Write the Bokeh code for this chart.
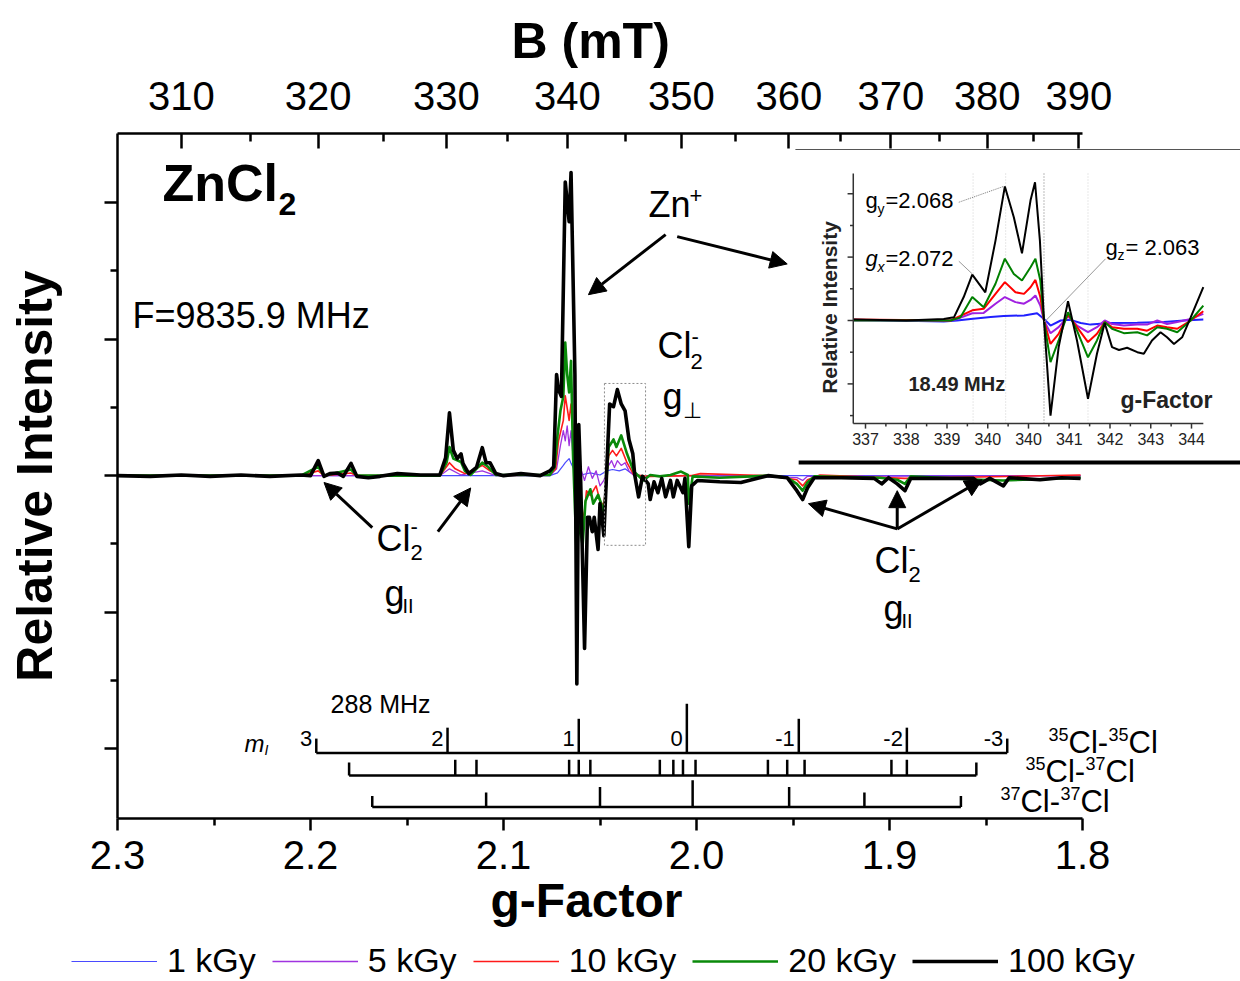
import math
from bokeh.plotting import figure
from bokeh.models import (Range1d, LinearAxis, FixedTicker, CustomJSTickFormatter,
                          NumeralTickFormatter, Arrow, NormalHead, Legend, LegendItem, Title)
from bokeh.core.properties import value
from bokeh.embed import file_html
from bokeh.resources import INLINE

FONT = "Liberation Sans"
FREQ_GHZ = 9.8359
B_PER_G = 71.4477 * FREQ_GHZ   # B(mT) * g

# ---------------- main spectrum (g-factor, relative intensity) ----------------
G_100 = [2.300, 2.283, 2.267, 2.252, 2.236, 2.221, 2.205, 2.200, 2.196, 2.193,
         2.190, 2.186, 2.183, 2.179, 2.176, 2.170, 2.164, 2.155, 2.143, 2.133,
         2.130, 2.128, 2.126, 2.124, 2.122, 2.121, 2.118, 2.114, 2.111, 2.109,
         2.107, 2.104, 2.100, 2.091, 2.081, 2.076, 2.074, 2.0725, 2.0715, 2.070,
         2.068, 2.066, 2.065, 2.063, 2.062, 2.061, 2.060, 2.058, 2.0565, 2.0555,
         2.054, 2.053, 2.051, 2.050, 2.049, 2.048, 2.046, 2.045, 2.043, 2.041,
         2.039, 2.037, 2.035, 2.033, 2.032, 2.030, 2.028, 2.025, 2.024, 2.022,
         2.020, 2.018, 2.016, 2.0135, 2.012, 2.010, 2.007, 2.006, 2.004, 2.0025,
         1.9995, 1.988, 1.977, 1.963, 1.953, 1.948, 1.945, 1.9425, 1.939, 1.925,
         1.908, 1.904, 1.9005, 1.896, 1.892, 1.889, 1.874, 1.8565, 1.853, 1.848,
         1.841, 1.838, 1.822, 1.811, 1.801]
I_100 = [0.00, -0.01, 0.01, -0.01, 0.01, -0.01, 0.01, 0.00, 0.22, -0.01,
         0.03, 0.04, -0.01, 0.18, -0.01, -0.03, -0.01, 0.03, 0.01, 0.01,
         0.26, 0.92, 0.37, 0.25, 0.32, 0.18, 0.03, 0.12, 0.41, 0.19,
         0.19, 0.03, 0.00, 0.03, 0.00, 0.07, 0.13, 1.48, 1.26, 1.16,
         4.30, 3.72, 4.44, 1.48, -3.05, 0.75, -0.09, -2.53, -0.61, -0.61,
         -0.82, -0.61, -1.08, -0.41, -0.61, -0.88, 0.42, 1.05, 1.01, 1.26,
         1.05, 0.95, 0.53, 0.32, 0.01, -0.31, -0.01, -0.12, -0.35, -0.09,
         -0.25, -0.04, -0.31, -0.07, -0.31, -0.07, -0.25, -0.04, -1.04, -0.15,
         -0.07, -0.09, -0.10, 0.00, -0.03, -0.22, -0.35, -0.18, -0.03, -0.03,
         -0.04, -0.12, -0.03, -0.12, -0.22, -0.04, -0.04, -0.04, -0.12, -0.04,
         -0.15, -0.03, -0.06, -0.03, -0.04]

G_20 = [2.300, 2.205, 2.196, 2.193, 2.179, 2.176, 2.133, 2.1295, 2.128, 2.126,
        2.122, 2.120, 2.117, 2.111, 2.108, 2.104, 2.076, 2.0735, 2.072, 2.0705,
        2.069, 2.068, 2.067, 2.066, 2.065, 2.064, 2.062, 2.061, 2.059, 2.0575,
        2.055, 2.0535, 2.051, 2.049, 2.048, 2.0455, 2.043, 2.0415, 2.039, 2.036,
        2.0325, 2.0275, 2.024, 2.019, 2.0135, 2.008, 2.0045, 2.004, 2.002, 1.988,
        1.963, 1.953, 1.948, 1.945, 1.9425, 1.939, 1.905, 1.896, 1.892, 1.889,
        1.853, 1.841, 1.801]
I_20 = [0, 0, 0.13, 0, 0.09, 0, 0, 0.19, 0.42, 0.25,
        0.20, 0.07, 0.01, 0.19, 0.13, 0.01, 0.01, 0.13, 0.59, 0.95,
        1.16, 1.95, 1.48, 1.22, 1.68, 0.32, -1.24, -0.66, -1.02, -0.37,
        -0.20, -0.41, -0.28, -0.44, -0.61, 0.42, 0.53, 0.42, 0.59, 0.32,
        0.06, -0.07, 0.01, -0.01, 0.01, 0.06, 0.01, -0.41, -0.01, -0.03,
        0, -0.03, -0.12, -0.22, -0.10, -0.01, -0.03, -0.06, -0.12, -0.01,
        -0.06, -0.07, -0.03]

G_10 = [2.300, 2.205, 2.196, 2.193, 2.179, 2.176, 2.133, 2.128, 2.125, 2.120,
        2.111, 2.107, 2.1015, 2.076, 2.073, 2.0715, 2.069, 2.068, 2.066, 2.065,
        2.064, 2.063, 2.0615, 2.060, 2.0585, 2.057, 2.055, 2.052, 2.050, 2.048,
        2.0455, 2.0435, 2.0415, 2.039, 2.036, 2.0325, 2.024, 2.003, 1.998, 1.963,
        1.948, 1.945, 1.9425, 1.936, 1.892, 1.801]
I_10 = [0, 0, 0.07, 0, 0.04, 0, 0, 0.19, 0.10, 0.03,
        0.15, 0.07, 0, 0.01, 0.10, 0.51, 0.81, 1.17, 0.81, 1.05,
        0.66, 0.07, -0.66, -0.37, -0.66, -0.22, -0.29, -0.15, -0.37, -0.44,
        0.29, 0.37, 0.29, 0.40, 0.19, 0.01, -0.01, 0, 0.03, 0,
        -0.06, -0.15, -0.06, 0.01, -0.04, 0.01]

G_5 = [2.300, 2.133, 2.128, 2.122, 2.111, 2.104, 2.076, 2.0725, 2.0705, 2.069,
       2.068, 2.067, 2.066, 2.065, 2.064, 2.062, 2.060, 2.058, 2.056, 2.054,
       2.052, 2.050, 2.048, 2.0455, 2.044, 2.0425, 2.041, 2.039, 2.037, 2.035,
       2.0325, 1.998, 1.948, 1.945, 1.9425, 1.801]
I_5 = [0, 0, 0.10, 0.01, 0.07, 0, 0, 0.10, 0.44, 0.66,
       0.51, 0.73, 0.44, 0.66, 0.29, 0.07, 0.10, -0.07, 0.13, -0.04,
       0.07, -0.15, -0.07, 0.15, 0.22, 0.12, 0.22, 0.15, 0.19, 0.07,
       0, 0, -0.03, -0.07, -0.01, 0]

G_1 = [2.300, 2.076, 2.072, 2.069, 2.068, 2.066, 2.065, 2.063, 2.060, 2.055,
       2.050, 2.0465, 2.0435, 2.040, 2.037, 2.034, 2.029, 1.801]
I_1 = [0, 0, 0.04, 0.15, 0.19, 0.25, 0.18, 0.07, 0.01, 0.04,
       0.01, 0.07, 0.09, 0.07, 0.10, 0.04, 0, 0]

DOSES = ["1 kGy", "5 kGy", "10 kGy", "20 kGy", "100 kGy"]
COLORS = ["#4a4aff", "#a033e0", "#ff1a1a", "#0a8a0a", "black"]
WIDTHS = [1.2, 1.3, 1.6, 2.6, 3.6]

# ---------------- hyperfine stick diagrams ----------------
G_3535 = [2.197, 2.129, 2.061, 2.005, 1.947, 1.891, 1.839]
H_3535 = [0.21, 0.37, 0.50, 0.72, 0.50, 0.37, 0.21]
ML_LABELS = ["3", "2", "1", "0", "-1", "-2", "-3"]
G_3537 = [2.180, 2.125, 2.114, 2.066, 2.061, 2.055, 2.019, 2.012, 2.007, 2.0005,
          1.963, 1.953, 1.944, 1.899, 1.891, 1.855]
H_3537 = [0.19, 0.23, 0.23, 0.23, 0.23, 0.23, 0.23, 0.23, 0.23, 0.23,
          0.23, 0.23, 0.23, 0.23, 0.23, 0.19]
G_3737 = [2.168, 2.109, 2.050, 2.002, 1.952, 1.913, 1.863]
H_3737 = [0.16, 0.21, 0.29, 0.39, 0.29, 0.21, 0.16]

# ---------------- inset (B in mT, relative intensity) ----------------
INB_X = [336.71, 338.00, 338.92, 339.17, 339.41, 339.62, 339.94, 340.19, 340.42, 340.64,
         340.84, 341.05, 341.16, 341.28, 341.38, 341.54, 341.74, 341.97, 342.19, 342.46,
         342.68, 342.87, 343.05, 343.22, 343.42, 343.67, 343.83, 344.03, 344.24, 344.40,
         344.57, 344.77, 344.98, 345.29]
INB_Y = [0.03, 0.00, 0.05, 0.10, 0.74, 1.45, 0.89, 2.52, 4.23, 3.26,
         2.12, 3.79, 4.36, 2.52, 0.00, -3.00, -0.84, 0.61, -0.63, -2.47,
         -1.05, -0.08, -0.84, -0.93, -0.86, -1.00, -1.05, -0.63, -0.37, -0.53,
         -0.74, -0.53, 0.10, 1.05]
ING_X = [336.71, 339.09, 339.33, 339.62, 339.90, 340.19, 340.42, 340.64, 340.84, 341.05,
         341.17, 341.29, 341.38, 341.54, 341.74, 341.97, 342.19, 342.46, 342.68, 342.87,
         343.05, 343.34, 343.67, 343.91, 344.16, 344.40, 344.65, 344.98, 345.29]
ING_Y = [0, 0, 0.10, 0.74, 0.42, 1.16, 1.95, 1.47, 1.26, 1.68,
         1.95, 1.26, 0, -1.31, -0.63, 0.26, -0.32, -1.16, -0.63, -0.05,
         -0.26, -0.40, -0.37, -0.47, -0.21, -0.26, -0.37, 0, 0.47]
INR_X = [336.71, 339.09, 339.25, 339.62, 339.90, 340.19, 340.42, 340.68, 340.89, 341.05,
         341.17, 341.29, 341.38, 341.54, 341.74, 341.97, 342.19, 342.46, 342.68, 342.87,
         343.05, 343.34, 343.67, 343.91, 344.16, 344.40, 344.65, 344.98, 345.29]
INR_Y = [0.03, 0, 0.10, 0.32, 0.37, 0.84, 1.21, 0.89, 0.84, 1.05,
         1.28, 0.74, 0, -0.74, -0.42, 0.19, -0.21, -0.68, -0.42, -0.05,
         -0.21, -0.26, -0.26, -0.32, -0.16, -0.21, -0.26, 0, 0.29]
INP_X = [336.71, 339.09, 339.25, 339.62, 339.90, 340.19, 340.42, 340.68, 340.89, 341.05,
         341.17, 341.29, 341.38, 341.54, 341.74, 341.97, 342.19, 342.46, 342.68, 342.87,
         343.05, 343.34, 343.67, 343.91, 344.16, 344.40, 344.65, 344.98, 345.29]
INP_Y = [0, 0, 0.05, 0.23, 0.24, 0.53, 0.74, 0.58, 0.53, 0.65,
         0.79, 0.47, 0, -0.40, -0.21, 0.13, -0.16, -0.37, -0.21, 0,
         -0.11, -0.16, -0.13, -0.13, 0, -0.11, -0.05, 0.05, 0.21]
INL_X = [336.71, 338.92, 339.25, 339.58, 340.07, 340.39, 340.89, 341.21, 341.38, 341.54,
         341.79, 342.03, 342.28, 342.52, 343.01, 343.67, 344.32, 344.81, 345.29]
INL_Y = [0.02, -0.03, 0, 0.05, 0.11, 0.14, 0.16, 0.23, 0.05, -0.16,
         0, 0.02, -0.08, -0.13, -0.08, -0.07, -0.05, 0, 0.03]
INSET_TICKS = [337, 338, 339, 340, 341, 342, 343, 344, 345]
INSET_LABELS = ["337", "338", "339", "340", "340", "341", "342", "343", "344"]
INSET_GLINES = [339.64, 340.44, 341.38, 342.46]

# axis ticks
G_TICKS = [2.3, 2.2, 2.1, 2.0, 1.9, 1.8]
G_MINOR = [2.25, 2.15, 2.05, 1.95, 1.85]
B_TICKS = [310, 320, 330, 340, 350, 360, 370, 380, 390]
B_MINOR = [315, 325, 335, 345, 355, 365, 375, 385]

# ---------------- main figure ----------------
FRAME_W = 1123
PX_PER_G = 1930.0
p = figure(width=1240, height=941, output_backend="svg", toolbar_location=None,
           x_range=Range1d(2.3, 2.3 - FRAME_W / PX_PER_G), y_range=Range1d(-5.02, 5.01),
           x_axis_location=None, y_axis_location=None,
           min_border_left=117, min_border_right=0, min_border_top=133, min_border_bottom=123)
p.outline_line_color = None
p.background_fill_color = "white"
p.border_fill_color = "white"
for r in p.center:
    if r.__class__.__name__ == "Grid":
        r.visible = False

# inset coordinate system (B in mT horizontally, intensity vertically)
IN_PX_X, IN_PX_Y = 40.75, 31.7
p.extra_x_ranges = {"ix": Range1d(337 - 748 / IN_PX_X, 337 + 375 / IN_PX_X)}
p.extra_y_ranges = {"iy": Range1d(-498 / IN_PX_Y, 187 / IN_PX_Y)}

AX = dict(axis_line_width=2.5, major_tick_line_width=2.5, minor_tick_line_width=2.5,
          axis_line_color="black", major_tick_line_color="black", minor_tick_line_color="black",
          major_label_text_font=FONT, major_label_text_color="black",
          axis_label_text_font=FONT, axis_label_text_font_style="bold",
          axis_label_text_color="black")

xb = LinearAxis(ticker=FixedTicker(ticks=G_TICKS, minor_ticks=G_MINOR),
                formatter=NumeralTickFormatter(format="0.0"), bounds=(1.8, 2.3),
                major_label_text_font_size="40px", major_tick_out=12, major_tick_in=0,
                minor_tick_out=7, minor_tick_in=0, major_label_standoff=10, **AX)
p.add_layout(xb, "below")
p.add_layout(Title(text="g-Factor", align="left", offset=373, standoff=0,
                   text_font=FONT, text_font_size="48px", text_font_style="bold",
                   text_color="black"), "below")

xt = LinearAxis(ticker=FixedTicker(ticks=[B_PER_G / b for b in B_TICKS],
                                   minor_ticks=[B_PER_G / b for b in B_MINOR]),
                formatter=CustomJSTickFormatter(args=dict(k=B_PER_G),
                                                code="return Math.round(k / tick).toString();"),
                bounds=(1.8, 2.3), major_label_text_font_size="40px", major_tick_out=0,
                major_tick_in=15, minor_tick_out=0, minor_tick_in=8, major_label_standoff=24, **AX)
p.add_layout(xt, "above")
p.add_layout(Title(text="B (mT)", align="left", offset=394, standoff=20,
                   text_font=FONT, text_font_size="50px", text_font_style="bold",
                   text_color="black"), "above")

yl = LinearAxis(ticker=FixedTicker(ticks=[-4, -2, 0, 2, 4], minor_ticks=[-3, -1, 1, 3]),
                axis_label="Relative Intensity", axis_label_text_font_size="50px",
                axis_label_standoff=42,
                major_tick_out=13, major_tick_in=0, minor_tick_out=7, minor_tick_in=0,
                major_label_text_font_size="0px", **AX)
yl.major_label_text_color = None
p.add_layout(yl, "left")


def txt(x, y, s, size, style="normal", xo=0, yo=0, align="left", xr="default", yr="default",
        angle=0.0, color="black"):
    p.text(x=[x], y=[y], text=[s], x_offset=xo, y_offset=yo, angle=angle,
           text_font=value(FONT), text_font_size=f"{size}px", text_font_style=style,
           text_align=align, text_baseline="middle", text_color=color,
           x_range_name=xr, y_range_name=yr)


# ---------------- main curves ----------------
for gs, vals, c, w in zip([G_1, G_5, G_10, G_20, G_100], [I_1, I_5, I_10, I_20, I_100],
                          COLORS, WIDTHS):
    p.line(gs, vals, line_color=c, line_width=w, line_join="round")

# dotted box around Cl2- g_perp
p.quad(left=[2.0477], right=[2.0264], bottom=[-1.02], top=[1.35], fill_color=None,
       line_color="#8c8c8c", line_width=1, line_dash="2 2")

# ---------------- stick diagrams ----------------
def sticks(gs, hs, base):
    p.segment(x0=[gs[0]], y0=[base], x1=[gs[-1]], y1=[base], line_color="black", line_width=2.5)
    p.segment(x0=gs, y0=[base] * len(gs), x1=gs, y1=[base + h for h in hs],
              line_color="black", line_width=2.5)

sticks(G_3535, H_3535, -4.06)
sticks(G_3537, H_3537, -4.39)
sticks(G_3737, H_3737, -4.85)
p.text(x=G_3535, y=[-3.85] * len(G_3535), text=ML_LABELS, x_offset=-4,
       text_font=value(FONT), text_font_size="22px", text_align="right",
       text_baseline="middle", text_color="black")
txt(2.2342, -3.92, "m", 24, style="italic")
txt(2.2342, -3.92, "I", 14, style="italic", xo=20, yo=7)
txt(2.1896, -3.34, "288 MHz", 25)

def iso_label(g, i, a, b):
    txt(g, i, a, 18, yo=-8)
    txt(g, i, "Cl-", 31, xo=20)
    txt(g, i, b, 18, xo=60, yo=-8)
    txt(g, i, "Cl", 31, xo=80)

iso_label(1.8176, -3.91, "35", "35")
iso_label(1.8295, -4.33, "35", "37")
iso_label(1.8425, -4.77, "37", "37")

# ---------------- main annotations ----------------
txt(2.2767, 4.29, "ZnCl", 52, style="bold")
txt(2.2767, 4.29, "2", 32, style="bold", xo=116, yo=21)
txt(2.2922, 2.34, "F=9835.9 MHz", 36)
txt(2.0249, 3.97, "Zn", 36)
txt(2.0249, 3.97, "+", 22, xo=41, yo=-9)
# Cl2- g_perp
txt(2.0202, 1.90, "Cl", 36)
txt(2.0202, 1.90, "-", 22, xo=34, yo=-9)
txt(2.0202, 1.90, "2", 22, xo=33, yo=16)
txt(2.0176, 1.16, "g", 36)
txt(2.0176, 1.16, "⊥", 22, xo=20, yo=14)
# Cl2- g_par (left)
txt(2.1658, -0.92, "Cl", 36)
txt(2.1658, -0.92, "-", 22, xo=34, yo=-12)
txt(2.1658, -0.92, "2", 22, xo=34, yo=14)
txt(2.1617, -1.72, "g", 36)
txt(2.1617, -1.72, "II", 20, xo=18, yo=13)
# Cl2- g_par (right)
txt(1.9078, -1.24, "Cl", 36)
txt(1.9078, -1.24, "-", 22, xo=34, yo=-12)
txt(1.9078, -1.24, "2", 22, xo=34, yo=14)
txt(1.9031, -1.94, "g", 36)
txt(1.9031, -1.94, "II", 20, xo=18, yo=13)

ARROWS = [(2.016, 3.53, 2.056, 2.65), (2.010, 3.50, 1.953, 3.10),
          (2.168, -0.76, 2.193, -0.10), (2.134, -0.82, 2.117, -0.18),
          (1.896, -0.78, 1.942, -0.41), (1.896, -0.78, 1.896, -0.22),
          (1.896, -0.78, 1.852, -0.06)]
for xs, ys, xe, ye in ARROWS:
    p.add_layout(Arrow(end=NormalHead(size=17, fill_color="black", line_color="black", line_width=1),
                       x_start=xs, y_start=ys, x_end=xe, y_end=ye,
                       line_color="black", line_width=3))

# ---------------- inset ----------------
IX = dict(x_range_name="ix", y_range_name="iy")
IN_L, IN_R, IN_B, IN_T = 336.70, 345.29, -3.25, 4.64
p.segment(x0=[335.28], y0=[5.394], x1=[346.20], y1=[5.394], line_color="#555555", line_width=1, **IX)
p.segment(x0=[335.36], y0=[-4.479], x1=[346.20], y1=[-4.479], line_color="black", line_width=4, **IX)
p.segment(x0=INSET_GLINES, y0=[IN_B] * 4, x1=INSET_GLINES, y1=[IN_T] * 4,
          line_color=["#d0d0d0", "#d0d0d0", "#777777", "#d0d0d0"], line_width=1, line_dash="1 2", **IX)
p.line(INL_X, INL_Y, line_color="#2020ff", line_width=2, **IX)
p.line(INP_X, INP_Y, line_color="#a020e0", line_width=2, **IX)
p.line(INR_X, INR_Y, line_color="#ff0000", line_width=2, **IX)
p.line(ING_X, ING_Y, line_color="#008000", line_width=2, **IX)
p.line(INB_X, INB_Y, line_color="black", line_width=2, **IX)
p.segment(x0=[IN_L, IN_L], y0=[IN_B, IN_B], x1=[IN_L, IN_R], y1=[IN_T, IN_B],
          line_color="#333333", line_width=1.5, **IX)
YT_MAJ = [-2, 0, 2, 4]
YT_MIN = [-3, -1, 1, 3]
p.segment(x0=[IN_L - 0.14] * 4, y0=YT_MAJ, x1=[IN_L] * 4, y1=YT_MAJ, line_color="#333333", line_width=1.5, **IX)
p.segment(x0=[IN_L - 0.08] * 4, y0=YT_MIN, x1=[IN_L] * 4, y1=YT_MIN, line_color="#333333", line_width=1.5, **IX)
p.segment(x0=INSET_TICKS, y0=[IN_B] * 9, x1=INSET_TICKS, y1=[IN_B - 0.16] * 9,
          line_color="#333333", line_width=1.5, **IX)
XT_MIN = [t + 0.5 for t in INSET_TICKS[:-1]]
p.segment(x0=XT_MIN, y0=[IN_B] * 8, x1=XT_MIN, y1=[IN_B - 0.09] * 8,
          line_color="#333333", line_width=1.5, **IX)
p.text(x=INSET_TICKS, y=[IN_B] * 9, text=INSET_LABELS, y_offset=15, text_font=value(FONT),
       text_font_size="16px", text_align="center", text_baseline="middle", text_color="#222222", **IX)
txt(336.117, 0.41, "Relative Intensity", 21, style="bold", align="center", angle=math.pi / 2,
    xr="ix", yr="iy", color="#222222")
txt(338.055, -1.99, "18.49 MHz", 20, style="bold", xr="ix", yr="iy", color="#222222")
txt(343.258, -2.52, "g-Factor", 23, style="bold", xr="ix", yr="iy", color="#222222")
txt(337.0, 3.785, "g", 22, xr="ix", yr="iy")
txt(337.0, 3.785, "y", 14, xo=12, yo=8, xr="ix", yr="iy")
txt(337.0, 3.785, "=2.068", 22, xo=20, xr="ix", yr="iy")
txt(337.0, 1.946, "g", 22, style="italic", xr="ix", yr="iy")
txt(337.0, 1.946, "x", 14, style="italic", xo=12, yo=8, xr="ix", yr="iy")
txt(337.0, 1.946, "=2.072", 22, xo=20, xr="ix", yr="iy")
txt(342.89, 2.312, "g", 22, xr="ix", yr="iy")
txt(342.89, 2.312, "z", 14, xo=12, yo=8, xr="ix", yr="iy")
txt(342.89, 2.312, "= 2.063", 22, xo=20, xr="ix", yr="iy")
p.segment(x0=[339.29], y0=[3.73], x1=[340.39], y1=[4.23], line_color="#777777", line_width=1, line_dash="1 1", **IX)
p.segment(x0=[339.29, 342.89], y0=[1.87, 1.945], x1=[339.62, 341.39], y1=[1.47, -0.05],
          line_color="#999999", line_width=1, **IX)

# ---------------- legend strip (separate root below the chart) ----------------
lf = figure(width=1240, height=40, output_backend="svg", toolbar_location=None,
            x_range=Range1d(0, 1), y_range=Range1d(0, 1),
            x_axis_location=None, y_axis_location=None,
            min_border_left=0, min_border_right=0, min_border_top=0, min_border_bottom=0)
lf.outline_line_color = None
lf.border_fill_color = "white"
for r in lf.center:
    if r.__class__.__name__ == "Grid":
        r.visible = False
# keys only (points lie outside the strip's visible range)
leg_renderers = [lf.line([-2, -1], [-2, -1], line_color=c, line_width=w) for c, w in zip(COLORS, WIDTHS)]
leg = Legend(items=[LegendItem(label=lab, renderers=[r]) for lab, r in zip(DOSES, leg_renderers)],
             orientation="horizontal", location=(71, 1), glyph_width=86, glyph_height=20,
             label_standoff=10, spacing=16, padding=0, margin=0, border_line_color=None,
             background_fill_alpha=0, label_text_font=FONT, label_text_font_size="34px",
             label_text_color="black")
lf.add_layout(leg)

open("out.html", "w").write(file_html([p, lf], INLINE))
